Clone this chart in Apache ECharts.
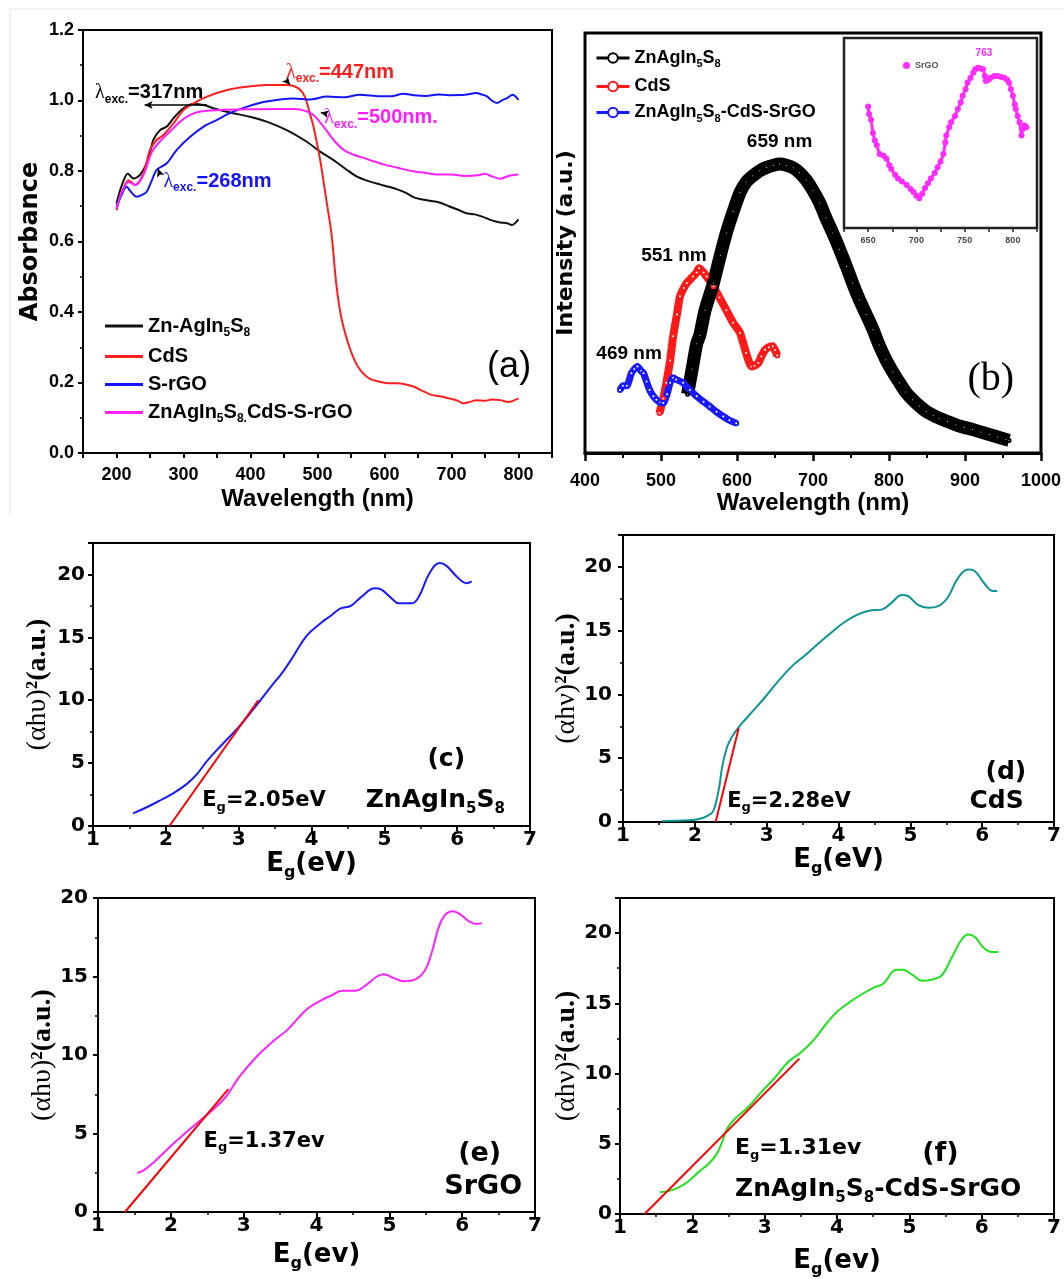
<!DOCTYPE html>
<html>
<head>
<meta charset="utf-8">
<script src="https://cdn.jsdelivr.net/npm/echarts@6/dist/echarts.min.js"></script>
<style>
  html, body { margin: 0; padding: 0; background: #fff; }
  #main { width: 1064px; height: 1279px; }
</style>
</head>
<body>
<div id="main"></div>
<script>
// ---- (a) UV-vis absorbance, [wavelength nm, absorbance]
var uvZnAgIn = [[200,0.708],[208,0.76],[217,0.793],[225,0.779],[235,0.789],[247,0.831],[255,0.888],[265,0.916],[275,0.926],[285,0.95],[300,0.978],[315,0.99],[330,0.987],[350,0.975],[374,0.964],[399,0.954],[424,0.94],[454,0.916],[484,0.883],[504,0.855],[524,0.831],[544,0.803],[559,0.784],[575,0.772],[593,0.762],[605,0.756],[619,0.748],[632,0.738],[644,0.725],[655,0.72],[670,0.715],[683,0.71],[696,0.70],[710,0.69],[722,0.68],[735,0.677],[747,0.67],[760,0.66],[773,0.654],[783,0.652],[790,0.647],[800,0.663]];
var uvCdS = [[200,0.689],[208,0.74],[218,0.774],[228,0.76],[240,0.793],[250,0.86],[260,0.888],[270,0.902],[285,0.935],[300,0.973],[315,0.992],[335,1.011],[365,1.03],[394,1.039],[424,1.044],[454,1.044],[471,1.035],[481,1.011],[489,0.96],[494,0.926],[504,0.831],[513,0.72],[521,0.62],[528,0.48],[536,0.38],[546,0.31],[556,0.26],[566,0.23],[577,0.212],[593,0.202],[605,0.198],[619,0.198],[630,0.195],[644,0.188],[658,0.175],[670,0.165],[685,0.16],[696,0.155],[710,0.148],[717,0.141],[728,0.145],[737,0.15],[750,0.148],[760,0.152],[773,0.15],[785,0.145],[800,0.155]];
var uvSrGO = [[200,0.699],[207,0.73],[215,0.755],[222,0.74],[230,0.727],[238,0.732],[245,0.741],[252,0.77],[260,0.803],[275,0.822],[290,0.86],[310,0.897],[330,0.926],[350,0.945],[369,0.964],[394,0.982],[424,0.997],[464,1.006],[490,1.003],[514,1.011],[540,1.009],[563,1.016],[593,1.012],[610,1.012],[628,1.019],[644,1.015],[662,1.013],[680,1.017],[696,1.015],[720,1.016],[737,1.021],[745,1.017],[753,1.012],[760,1.0],[768,0.993],[775,1.0],[783,1.007],[791,1.016],[800,1.002]];
var uvComposite = [[200,0.694],[208,0.74],[218,0.769],[228,0.76],[240,0.788],[253,0.855],[265,0.884],[280,0.912],[295,0.94],[310,0.959],[325,0.969],[355,0.973],[394,0.975],[439,0.976],[464,0.976],[479,0.972],[494,0.959],[509,0.926],[524,0.888],[539,0.86],[554,0.846],[564,0.84],[580,0.83],[600,0.818],[620,0.809],[640,0.80],[660,0.795],[680,0.79],[700,0.79],[720,0.786],[740,0.788],[750,0.792],[760,0.785],[773,0.778],[785,0.786],[800,0.79]];

// ---- (b) PL intensity (a.u.), [wavelength nm, intensity]
var plZnAgIn = [[535,14],[541,20],[547,26],[551,28],[558,34],[569,40.5],[578,47],[586,52.4],[595,57.5],[604,62],[612,64.5],[621,66],[630,67.2],[639,68],[648,68.5],[656,68.8],[665,68.5],[674,67.9],[682,66.8],[691,65],[700,62.5],[709,59.5],[717,56],[726,52.4],[735,48.5],[744,44.4],[752,40.5],[761,36.5],[770,33],[779,29.4],[787,25.7],[796,22.2],[805,19.3],[814,16.7],[822,14.5],[831,12.7],[840,11.2],[849,9.9],[858,9],[866,8.3],[877,7.5],[888,6.7],[899,6.1],[910,5.6],[921,5],[932,4.4],[943,3.8],[954,3.2],[958,3]];
var plCdS = [[498,9.5],[503,13],[507,16.7],[512,22],[516,27.8],[521,33],[525,37.3],[530,39.3],[534,40.5],[542,42],[547,43],[550,44],[556,43],[560,42],[569,39.7],[577,37],[586,34],[595,31],[604,28.6],[612,23.8],[619,20.6],[623,20.8],[628,21.4],[632,23],[637,24.6],[642,25.2],[647,25.4],[650,24.5],[653,23.2]];
var plComposite = [[446,15],[450,16],[455,16],[461,19],[465,20],[469,20.6],[474,19.5],[477,19],[481,17],[485,15],[490,13.5],[494,12.7],[499,12],[503,11.9],[508,14],[512,16.7],[516,17.9],[520,17.5],[529,16.7],[538,15],[547,13.5],[556,12.2],[564,11.1],[573,9.8],[582,8.7],[590,7.8],[599,7.1]];
var plSrGOInset = [[650,64],[651,60],[653,57],[655,50],[657,46],[659,43.5],[662,39],[666,38],[669,36.5],[672,33],[674,31],[678,28],[681,26],[685,24.5],[690,22.6],[694,20.5],[697,19],[700,17],[703,15.7],[706,18],[709,21],[712,23.5],[715,26],[719,29],[722,32],[725,35],[728,39],[730,45],[731,48.7],[734,53],[736,55.7],[740,59],[743,62.6],[746,66],[748,69.6],[751,73],[753,76.5],[756,79],[759,81.7],[761,83.5],[764,84.3],[766,84],[769,83.5],[771,80],[772,77.4],[775,78],[777,79.1],[781,80],[784,80],[788,79.5],[791,79.1],[794,78],[796,76.5],[798,73],[800,69.6],[802,65],[803,62.6],[805,59],[807,55.7],[809,48.7],[810,52],[812,54],[814,53]];

// ---- (c)-(f) Tauc plots, [E eV, (ahv)^2]
var taucZnAgIn = [[1.55,1.0],[1.73,1.47],[1.91,2.0],[2.10,2.6],[2.29,3.35],[2.43,4.15],[2.57,5.2],[2.76,6.4],[2.99,7.8],[3.23,9.5],[3.46,11.2],[3.60,12.2],[3.74,13.4],[3.93,15.1],[4.12,16.1],[4.26,16.7],[4.40,17.3],[4.54,17.5],[4.68,18.2],[4.87,18.9],[4.96,18.8],[5.10,18.1],[5.20,17.7],[5.38,17.7],[5.48,18.3],[5.62,20.1],[5.76,20.9],[5.85,20.7],[6.00,19.8],[6.13,19.3],[6.20,19.45]];
var fitZnAgIn = [[2.05,0],[3.27,10.0]];
var taucCdS = [[1.55,0.08],[1.92,0.13],[2.10,0.3],[2.18,0.5],[2.25,0.8],[2.29,1.44],[2.34,2.75],[2.38,4.3],[2.45,5.9],[2.52,6.7],[2.62,7.5],[2.80,8.65],[2.98,9.8],[3.17,11.1],[3.35,12.2],[3.54,13.1],[3.72,14.0],[3.91,14.9],[4.09,15.7],[4.28,16.3],[4.46,16.6],[4.60,16.65],[4.74,17.2],[4.88,17.8],[4.97,17.7],[5.11,17.0],[5.25,16.8],[5.38,16.9],[5.52,17.6],[5.66,19.1],[5.80,19.8],[5.89,19.7],[6.03,18.7],[6.15,18.1],[6.21,18.1]];
var fitCdS = [[2.29,0],[2.61,7.35]];
var taucSrGO = [[1.54,2.5],[1.61,2.6],[1.76,3.14],[2.0,4.2],[2.18,4.95],[2.37,5.7],[2.56,6.45],[2.75,7.3],[2.94,8.6],[3.17,9.86],[3.41,10.9],[3.60,11.6],[3.74,12.3],[3.88,12.96],[4.07,13.5],[4.21,13.8],[4.35,14.1],[4.54,14.1],[4.68,14.45],[4.83,15.0],[4.92,15.15],[5.06,14.9],[5.20,14.7],[5.35,14.8],[5.49,15.4],[5.58,16.5],[5.72,18.6],[5.87,19.15],[5.96,19.0],[6.10,18.5],[6.20,18.35],[6.27,18.4]];
var fitSrGO = [[1.37,0],[2.79,7.83]];
var taucComposite = [[1.55,1.55],[1.73,1.72],[1.91,2.19],[2.09,3.0],[2.23,3.6],[2.34,4.3],[2.41,5.1],[2.48,6.07],[2.59,6.78],[2.77,7.6],[2.95,8.66],[3.14,9.7],[3.32,10.8],[3.50,11.5],[3.68,12.4],[3.86,13.6],[4.0,14.4],[4.18,15.1],[4.36,15.7],[4.50,16.1],[4.64,16.4],[4.82,17.4],[4.91,17.4],[5.05,17.0],[5.18,16.6],[5.32,16.7],[5.45,17.0],[5.59,18.3],[5.73,19.6],[5.82,19.9],[5.91,19.7],[6.02,19.0],[6.14,18.66],[6.23,18.66]];
var fitComposite = [[1.34,0],[3.48,11.06]];

// legend texts, ~x~ marks a subscript
var legendText = {
  'a1': 'Zn-AgIn~5~S~8~', 'a2': 'CdS', 'a3': 'S-rGO', 'a4': 'ZnAgIn~5~S~8.~CdS-S-rGO',
  'b1': 'ZnAgIn~5~S~8~', 'b2': 'CdS', 'b3': 'ZnAgIn~5~S~8~-CdS-SrGO', 'SrGO': 'SrGO'
};

var F = 'Liberation Sans', D = 'DejaVu Sans', SF = 'Liberation Serif';

function rs(size, fam, color, weight) {
  var sub = Math.round(size * 0.6);
  return {
    n: { fontSize: size, fontFamily: fam, fontWeight: weight, color: color, lineHeight: Math.round(size * 1.25) },
    s: { fontSize: sub, fontFamily: fam, fontWeight: weight, color: color, lineHeight: sub, verticalAlign: 'bottom' },
    l: { fontSize: size, fontFamily: SF, fontWeight: 'normal', color: color, lineHeight: Math.round(size * 1.25) },
    p: { fontSize: size, fontFamily: SF, fontWeight: 'normal', color: color, lineHeight: Math.round(size * 1.25) },
    b: { fontSize: size, fontFamily: SF, fontWeight: 'bold', color: color, lineHeight: Math.round(size * 1.25) }
  };
}
function rt(s) {
  return s.split('~').map(function (p, i) { return p ? '{' + (i % 2 ? 's' : 'n') + '|' + p + '}' : ''; }).join('');
}
function lam(s) { return '{l|λ}' + rt('~exc.~' + s); }

function note(g, pos, text, rich, align, arrows, arrowColor) {
  var sr = {
    type: 'scatter', xAxisIndex: g, yAxisIndex: g, data: [pos], symbolSize: 0, silent: true, z: 6,
    itemStyle: { opacity: 1 },
    label: { show: true, position: [0, 0], align: align || 'center', verticalAlign: 'middle', opacity: 1,
      textBorderWidth: 0, formatter: text, rich: rich }
  };
  if (arrows) {
    sr.markLine = {
      silent: true, symbol: ['none', 'arrow'], symbolSize: [6, 8], label: { show: false },
      lineStyle: { color: arrowColor, width: 1.5, type: 'solid', opacity: 1 },
      data: arrows.map(function (a) { return [{ coord: a[0] }, { coord: a[1] }]; })
    };
  }
  return sr;
}

function line(g, name, data, color, width, extra) {
  var s = { type: 'line', name: name, xAxisIndex: g, yAxisIndex: g, data: data, symbol: 'none', smooth: 0.3,
    lineStyle: { color: color, width: width }, itemStyle: { color: color }, z: 3 };
  for (var k in extra) s[k] = extra[k];
  return s;
}

var tickTxt = { fontSize: 18, fontFamily: F, fontWeight: 'bold', color: '#000' };
var taucTxt = { fontSize: 20, fontFamily: D, fontWeight: 'bold', color: '#000' };
var blk = { color: '#000', width: 2 };

function taucX(g, unit, gap) {
  return { gridIndex: g, type: 'value', min: 1, max: 7, interval: 1,
    axisLine: { onZero: false, lineStyle: blk }, axisTick: { length: 5, lineStyle: blk },
    minorTick: { show: true, splitNumber: 2, length: 3, lineStyle: { color: '#000', width: 1.5 } },
    axisLabel: Object.assign({ margin: 4 }, taucTxt), splitLine: { show: false },
    name: rt('E~g~(' + unit + ')'), nameLocation: 'middle', nameGap: gap, nameTextStyle: { rich: rs(26, D, '#000', 'bold') } };
}
function taucY(g, max, nu, gap, margin) {
  return { gridIndex: g, type: 'value', min: 0, max: max, interval: 5,
    axisLine: { onZero: false, lineStyle: blk }, axisTick: { length: 5, lineStyle: blk },
    minorTick: { show: true, splitNumber: 2, length: 3, lineStyle: { color: '#000', width: 1.5 } },
    axisLabel: Object.assign({ margin: margin, formatter: function (v) { return v % 5 === 0 ? String(v) : ''; } }, taucTxt),
    splitLine: { show: false },
    name: '{p|(αh' + nu + ')}{b|²(a.u.)}', nameLocation: 'middle', nameGap: gap,
    nameTextStyle: { rich: rs(28, SF, '#000', 'bold') } };
}

var frame = { show: true, borderColor: '#000', borderWidth: 2, backgroundColor: 'transparent' };

var option = {
  animation: false,
  backgroundColor: '#fff',
  textStyle: { fontFamily: F },
  graphic: [
    { type: 'line', shape: { x1: 10, y1: 9, x2: 1064, y2: 9 }, style: { stroke: '#e6e6e6', lineWidth: 1 } },
    { type: 'line', shape: { x1: 10, y1: 9, x2: 10, y2: 515 }, style: { stroke: '#e6e6e6', lineWidth: 1 } }
  ],
  grid: [
    Object.assign({ left: 83, top: 30, width: 469, height: 423 }, frame),
    Object.assign({ left: 585, top: 33, width: 457, height: 420 }, frame, { borderWidth: 3 }),
    Object.assign({ left: 844, top: 38, width: 193, height: 190 }, frame, { backgroundColor: '#fff', borderColor: '#222', borderWidth: 2.5 }),
    Object.assign({ left: 93, top: 543, width: 437, height: 283 }, frame),
    Object.assign({ left: 623, top: 535, width: 434, height: 287 }, frame),
    Object.assign({ left: 98, top: 898, width: 437, height: 314 }, frame),
    Object.assign({ left: 620, top: 898, width: 440, height: 318 }, frame)
  ],
  xAxis: [
    { gridIndex: 0, type: 'value', min: 150, max: 850, interval: 50,
      axisLine: { onZero: false, lineStyle: blk }, axisTick: { length: 5, lineStyle: blk },
      axisLabel: Object.assign({ margin: 13, formatter: function (v) { return v % 100 === 0 ? String(v) : ''; } }, tickTxt),
      splitLine: { show: false },
      name: 'Wavelength (nm)', nameLocation: 'middle', nameGap: 34,
      nameTextStyle: { fontSize: 24, fontFamily: F, fontWeight: 'bold', color: '#000' } },
    { gridIndex: 1, type: 'value', min: 400, max: 1000, interval: 100,
      axisLine: { onZero: false, lineStyle: { color: '#000', width: 3 } }, axisTick: { length: 8, lineStyle: { color: '#000', width: 2.5 } },
      minorTick: { show: true, splitNumber: 2, length: 5, lineStyle: { color: '#000', width: 2 } },
      axisLabel: Object.assign({ margin: 19, formatter: function (v) { return String(v); } }, tickTxt), splitLine: { show: false },
      name: 'Wavelength (nm)', nameLocation: 'middle', nameGap: 38,
      nameTextStyle: { fontSize: 24, fontFamily: F, fontWeight: 'bold', color: '#000' } },
    { gridIndex: 2, type: 'value', min: 625, max: 825, interval: 25,
      axisLine: { onZero: false, lineStyle: { color: '#222', width: 2 } }, axisTick: { length: 4, lineStyle: { color: '#222', width: 1.5 } },
      axisLabel: { margin: 8, fontSize: 9, fontFamily: F, fontWeight: 'bold', color: '#444', formatter: function (v) { return v % 50 === 0 ? String(v) : ''; } },
      splitLine: { show: false } },
    taucX(3, 'eV', 18),
    taucX(4, 'eV', 22),
    taucX(5, 'ev', 27),
    taucX(6, 'ev', 31)
  ],
  yAxis: [
    { gridIndex: 0, type: 'value', min: 0, max: 1.2, interval: 0.2,
      axisLine: { onZero: false, lineStyle: blk }, axisTick: { length: 5, lineStyle: blk },
      minorTick: { show: true, splitNumber: 2, length: 3, lineStyle: { color: '#000', width: 1.5 } },
      axisLabel: Object.assign({ margin: 9, formatter: function (v) { return v.toFixed(1); } }, tickTxt),
      splitLine: { show: false },
      name: 'Absorbance', nameLocation: 'middle', nameGap: 40,
      nameTextStyle: { fontSize: 24, fontFamily: D, fontWeight: 'bold', color: '#000' } },
    { gridIndex: 1, type: 'value', min: 0, max: 100,
      axisLine: { show: false }, axisTick: { show: false }, axisLabel: { show: false }, splitLine: { show: false },
      name: 'Intensity (a.u.)', nameLocation: 'middle', nameGap: 8,
      nameTextStyle: { fontSize: 22, fontFamily: D, fontWeight: 'bold', color: '#000' } },
    { gridIndex: 2, type: 'value', min: 0, max: 100,
      axisLine: { show: false }, axisTick: { show: false }, axisLabel: { show: false }, splitLine: { show: false } },
    taucY(3, 22.5, 'υ', 38, 8),
    taucY(4, 22.5, 'ν', 38, 11),
    taucY(5, 20, 'υ', 34, 10),
    taucY(6, 22.5, 'ν', 36, 8)
  ],
  legend: [
    { data: ['a1', 'a2', 'a3', 'a4'], orient: 'vertical', left: 100, top: 311, itemGap: 8,
      icon: 'rect', itemWidth: 38, itemHeight: 3,
      formatter: function (n) { return rt(legendText[n]); }, textStyle: { rich: rs(20, F, '#000', 'bold') } },
    { data: ['b1', 'b2', 'b3'], orient: 'vertical', left: 590, top: 44, itemGap: 8,
      itemWidth: 33, itemHeight: 12, lineStyle: { width: 3 }, itemStyle: { borderWidth: 2 },
      formatter: function (n) { return rt(legendText[n]); }, textStyle: { rich: rs(18, F, '#000', 'bold') } },
    { data: ['SrGO'], left: 898, top: 56, icon: 'circle', itemWidth: 7, itemHeight: 7,
      formatter: function (n) { return legendText[n]; },
      textStyle: { fontSize: 9, fontFamily: F, fontWeight: 'bold', color: '#555' } }
  ],
  series: [
    // (a)
    line(0, 'a1', uvZnAgIn, '#111', 2),
    line(0, 'a2', uvCdS, '#ff1f1f', 2),
    line(0, 'a3', uvSrGO, '#1414ff', 2),
    line(0, 'a4', uvComposite, '#ff1fff', 2),
    note(0, [168, 1.022], lam('=317nm'), rs(20, F, '#000', 'bold'), 'left', [[[335, 0.987], [242, 0.987]]], '#000'),
    note(0, [453, 1.08], lam('=447nm'), rs(20, F, '#ff1f1f', 'bold'), 'left', [[[453, 1.058], [459, 1.045]]], '#000'),
    note(0, [510, 0.951], lam('=500nm.'), rs(20, F, '#ff1fff', 'bold'), 'left', [[[514, 0.962], [505, 0.966]]], '#000'),
    note(0, [270, 0.77], lam('=268nm'), rs(20, F, '#1414ff', 'bold'), 'left', [[[265, 0.79], [262, 0.806]]], '#000'),
    note(0, [786, 0.245], '{n|(a)}', { n: { fontSize: 36, fontFamily: F, fontWeight: 'normal', color: '#000' } }),
    // (b)
    line(1, 'b2', plCdS, '#ff1a1a', 8, { smooth: 0.2, symbol: 'emptyCircle', symbolSize: 4, itemStyle: { color: '#ff1a1a', borderWidth: 2 } }),
    line(1, 'b1', plZnAgIn, '#000', 13, { smooth: 0.2, symbol: 'emptyCircle', symbolSize: 3, itemStyle: { color: '#000', borderWidth: 2 } }),
    line(1, 'b3', plComposite, '#1a1aff', 7, { smooth: 0.2, symbol: 'emptyCircle', symbolSize: 4, itemStyle: { color: '#1a1aff', borderWidth: 2 } }),
    note(1, [656, 74], '{n|659 nm}', rs(19, F, '#000', 'bold')),
    note(1, [517, 47], '{n|551 nm}', rs(19, F, '#000', 'bold')),
    note(1, [458, 23.6], '{n|469 nm}', rs(19, F, '#000', 'bold')),
    note(1, [934, 17.5], '{n|(b)}', { n: { fontSize: 40, fontFamily: SF, color: '#000' } }),
    // inset
    line(2, 'SrGO', plSrGOInset, '#ff2bff', 3, { smooth: 0.2, symbol: 'circle', symbolSize: 6 }),
    note(2, [770, 92], '{n|763}', rs(10, F, '#ff2bff', 'bold')),
    // (c)
    line(3, 'c', taucZnAgIn, '#1a1aff', 2, { smooth: 0.4 }),
    line(3, 'cfit', fitZnAgIn, '#ff0000', 2, { smooth: false }),
    note(3, [5.85, 5.3], '{n|(c)}', rs(25, D, '#000', 'bold')),
    note(3, [5.7, 2.0], rt('ZnAgIn~5~S~8~'), rs(25, D, '#000', 'bold')),
    note(3, [2.5, 2.0], rt('E~g~=2.05eV'), rs(21, D, '#000', 'bold'), 'left'),
    // (d)
    line(4, 'd', taucCdS, '#0e9494', 2, { smooth: 0.4 }),
    line(4, 'dfit', fitCdS, '#ff0000', 2, { smooth: false }),
    note(4, [6.33, 3.9], '{n|(d)}', rs(25, D, '#000', 'bold')),
    note(4, [6.2, 1.6], '{n|CdS}', rs(25, D, '#000', 'bold')),
    note(4, [2.45, 1.6], rt('E~g~=2.28eV'), rs(21, D, '#000', 'bold'), 'left'),
    // (e)
    line(5, 'e', taucSrGO, '#ff22ff', 2, { smooth: 0.4 }),
    line(5, 'efit', fitSrGO, '#ff0000', 2, { smooth: false }),
    note(5, [6.24, 3.7], '{n|(e)}', rs(27, D, '#000', 'bold')),
    note(5, [6.29, 1.6], '{n|SrGO}', rs(27, D, '#000', 'bold')),
    note(5, [2.45, 4.5], rt('E~g~=1.37ev'), rs(21, D, '#000', 'bold'), 'left'),
    // (f)
    line(6, 'f', taucComposite, '#22e022', 2, { smooth: 0.4 }),
    line(6, 'ffit', fitComposite, '#ff0000', 2, { smooth: false }),
    note(6, [5.43, 4.3], '{n|(f)}', rs(27, D, '#000', 'bold')),
    note(6, [2.59, 4.66], rt('E~g~=1.31ev'), rs(22, D, '#000', 'bold'), 'left'),
    note(6, [2.59, 1.72], rt('ZnAgIn~5~S~8~-CdS-SrGO'), rs(25, D, '#000', 'bold'), 'left')
  ]
};

var myChart = echarts.init(document.getElementById('main'), null, { renderer: 'canvas' });
myChart.setOption(option);
</script>
</body>
</html>
